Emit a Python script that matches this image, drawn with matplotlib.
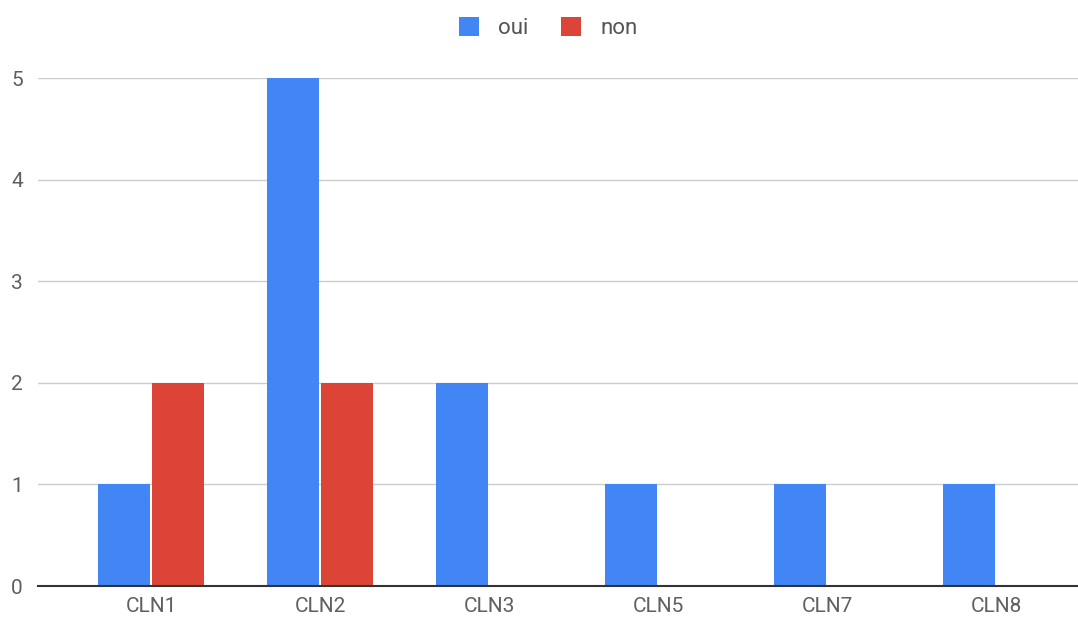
import matplotlib.pyplot as plt
import numpy as np

# data
categories = ["CLN1", "CLN2", "CLN3", "CLN5", "CLN7", "CLN8"]
oui = [1, 5, 2, 1, 1, 1]
non = [2, 2, 0, 0, 0, 0]

blue = "#4285F4"
red = "#DB4437"
plt.rcParams["font.family"] = ["Roboto", "DejaVu Sans"]

fig = plt.figure(figsize=(10.78, 6.19), dpi=100)
ax = fig.add_axes([38 / 1078, 1 - 586 / 619, 1 - 38 / 1078, (586 - 78) / 619])

x = np.arange(len(categories))
w = 0.308
off = 0.16
ax.bar(x - off, oui, width=w, color=blue, label="oui", zorder=3)
ax.bar(x + off, non, width=w, color=red, label="non", zorder=3)

ax.set_xlim(-0.669, 5.485)
ax.set_ylim(0, 5)
ax.set_yticks(range(6))
ax.set_xticks(x)
ax.set_xticklabels(categories)
ax.grid(axis="y", color="#cccccc", linewidth=1, zorder=0)
ax.set_axisbelow(True)

for s in ["top", "right", "left"]:
    ax.spines[s].set_visible(False)
ax.spines["bottom"].set_color("#333333")
ax.spines["bottom"].set_linewidth(1.5)
ax.spines["bottom"].set_zorder(4)
ax.tick_params(axis="both", length=0, labelsize=15, labelcolor="#5f5f5f")
ax.tick_params(axis="x", pad=8)
ax.tick_params(axis="y", pad=11)

fig.legend(loc="center", bbox_to_anchor=(548 / 1078, 1 - 28 / 619), ncol=2,
           frameon=False, fontsize=16, handlelength=0.9, handleheight=0.9,
           handletextpad=0.85, columnspacing=1.5, labelcolor="#555555")

fig.savefig("out.png", dpi=100)
